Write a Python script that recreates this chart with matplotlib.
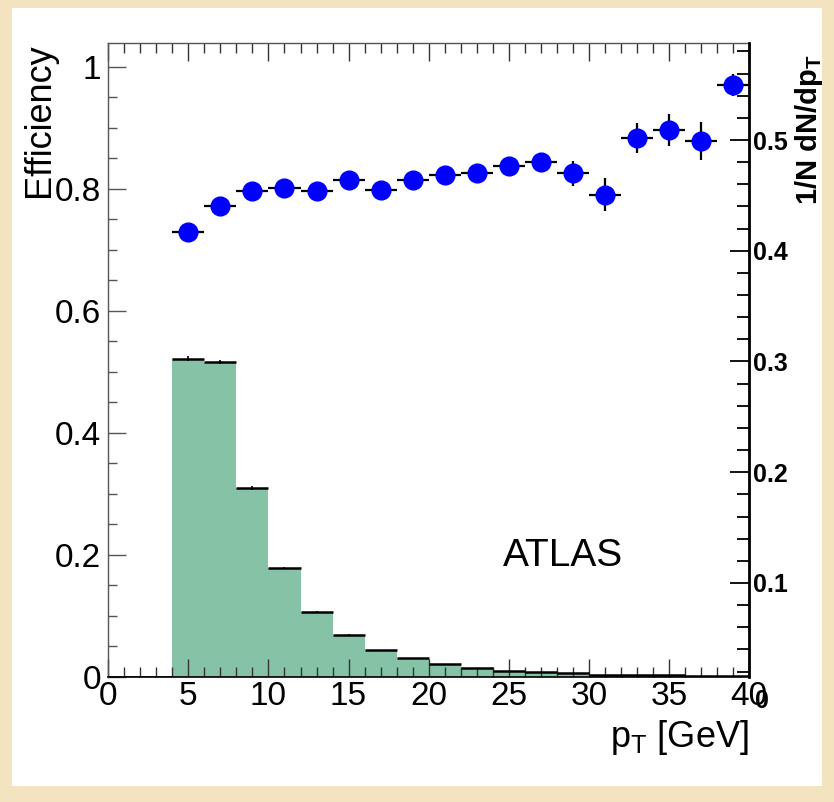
#!/usr/bin/env python
"""
Muon trigger efficiency vs pT, with the normalised pT spectrum underneath.

Usage:
    python plot.py
"""

import numpy as np
import matplotlib
matplotlib.use("Agg")
import matplotlib.pyplot as plt
import matplotlib.transforms as mtransforms
from matplotlib.patches import Rectangle
from matplotlib.ticker import MultipleLocator, FixedLocator, FuncFormatter

plt.rcParams['font.family'] = ['Liberation Sans', 'DejaVu Sans']
plt.rcParams['mathtext.default'] = 'regular'

# Efficiency points (2 GeV bins, centres in GeV)
pt_centers = np.arange(5, 40, 2)
efficiency = [0.729, 0.771, 0.796, 0.801, 0.796, 0.814, 0.798, 0.814, 0.822,
              0.826, 0.837, 0.844, 0.825, 0.790, 0.883, 0.896, 0.878, 0.970]
eff_err = [0.008, 0.008, 0.008, 0.008, 0.008, 0.009, 0.009, 0.010, 0.010,
           0.011, 0.012, 0.015, 0.021, 0.027, 0.025, 0.026, 0.031, 0.018]

# pT spectrum, already scaled into the efficiency frame
hist_edges = np.arange(0, 42, 2)
hist_scaled = [0.0, 0.0, 0.521, 0.516, 0.310, 0.179, 0.107, 0.069, 0.044, 0.031,
               0.021, 0.015, 0.010, 0.008, 0.006, 0.004, 0.003, 0.0025, 0.001, 0.001]
hist_err = [0.0, 0.0, 0.004, 0.003, 0.003, 0.001, 0.001, 0.001, 0.0, 0.0,
            0.0, 0.0, 0.0, 0.0, 0.0, 0.0, 0.0, 0.0, 0.0, 0.0]

# Right-hand axis (1/N dN/dpT) range and labels
right_range = (0.0151, 0.5876)
right_ticks = [0.1, 0.2, 0.3, 0.4, 0.5]

W, H = 834, 802


def px(x, y):
    """pixel (from top-left) -> figure fraction"""
    return x / W, 1 - y / H


def main():
    fig = plt.figure(figsize=(W / 100, H / 100), dpi=100)
    fig.patch.set_facecolor('#f3e4bf')
    fig.patches.append(Rectangle((12 / W, 16 / H), 810 / W, 778 / H,
                                 transform=fig.transFigure, facecolor='white',
                                 edgecolor='none', zorder=-1))

    x0, y0 = px(108.3, 677)
    x1, y1 = px(749, 43)
    ax = fig.add_axes([x0, y0, x1 - x0, y1 - y0])
    ax.set_facecolor('white')
    ax.set_xlim(0, 40)
    ax.set_ylim(0, 1.0385)

    # histogram: fill + horizontal bin bars
    ax.stairs(hist_scaled, hist_edges, fill=True, color='#86c2a6', lw=0, zorder=1)
    ax.hlines(hist_scaled, hist_edges[:-1], hist_edges[1:], colors='k', lw=1.8, zorder=2)
    centers = 0.5 * (hist_edges[:-1] + hist_edges[1:])
    ax.errorbar(centers, hist_scaled, yerr=hist_err, fmt='none', ecolor='k',
                elinewidth=1.2, capsize=0, zorder=2)

    # efficiency points
    ax.errorbar(pt_centers, efficiency, xerr=1, yerr=eff_err, fmt='o', ms=13.5,
                mfc='blue', mec='blue', ecolor='black', elinewidth=1.6,
                capsize=0, zorder=3)

    # frame / ticks
    for s in ['left', 'top']:
        ax.spines[s].set_color('#555555')
        ax.spines[s].set_linewidth(1.0)
    ax.spines['bottom'].set_color('black')
    ax.spines['bottom'].set_linewidth(1.2)
    ax.spines['right'].set_visible(False)

    ax.xaxis.set_major_locator(MultipleLocator(5))
    ax.xaxis.set_minor_locator(MultipleLocator(1))
    ax.yaxis.set_major_locator(MultipleLocator(0.2))
    ax.yaxis.set_minor_locator(MultipleLocator(0.05))
    ax.yaxis.set_major_formatter(FuncFormatter(lambda v, p: '%g' % round(v, 2)))
    ax.xaxis.set_ticks_position('both')
    ax.yaxis.set_ticks_position('left')
    ax.tick_params(axis='x', which='major', direction='in', length=13, width=1,
                   labelsize=24, pad=3, color='#333333')
    ax.tick_params(axis='x', which='minor', direction='in', length=7, width=1,
                   color='#333333')
    ax.tick_params(axis='y', which='major', direction='in', length=13, width=1,
                   labelsize=24, pad=5, color='#555555')
    ax.tick_params(axis='y', which='minor', direction='in', length=6.5, width=1,
                   color='#555555')

    # right axis
    ax2 = ax.twinx()
    ax2.set_ylim(*right_range)
    for s in ['left', 'top', 'bottom']:
        ax2.spines[s].set_visible(False)
    ax2.spines['right'].set_linewidth(2)
    ax2.yaxis.set_major_locator(FixedLocator(right_ticks))
    ax2.yaxis.set_minor_locator(MultipleLocator(0.02))
    ax2.yaxis.set_major_formatter(FuncFormatter(lambda v, p: '%.1f' % v))
    ax2.tick_params(axis='y', which='major', direction='in', length=14, width=1.3,
                    labelsize=18, pad=3)
    ax2.tick_params(axis='y', which='minor', direction='in', length=8.5, width=1.3)
    plt.setp(ax2.get_yticklabels(), fontweight='bold')
    # ROOT draws the "0" of the right axis just under the frame
    trans = mtransforms.offset_copy(
        mtransforms.blended_transform_factory(ax2.transAxes, ax2.transData),
        fig=fig, x=4, y=-5, units='points')
    ax2.text(1.0, 0.0, '0', transform=trans, ha='left', va='center',
             fontsize=18, fontweight='bold', clip_on=False)

    # titles and labels
    fig.text(*px(40, 43), 'Efficiency', rotation=90, ha='center', va='top', fontsize=26)
    fig.text(*px(809, 55), r'1/N dN/dp$_{T}$', rotation=90, ha='center', va='top',
             fontsize=21, fontweight='bold')
    fig.text(*px(749, 747), r'p$_{T}$ [GeV]', ha='right', va='baseline', fontsize=26)
    fig.text(*px(563, 566), 'ATLAS', ha='center', va='baseline', fontsize=28)

    fig.savefig('out.png', dpi=100, facecolor=fig.get_facecolor())


if __name__ == "__main__":
    main()
